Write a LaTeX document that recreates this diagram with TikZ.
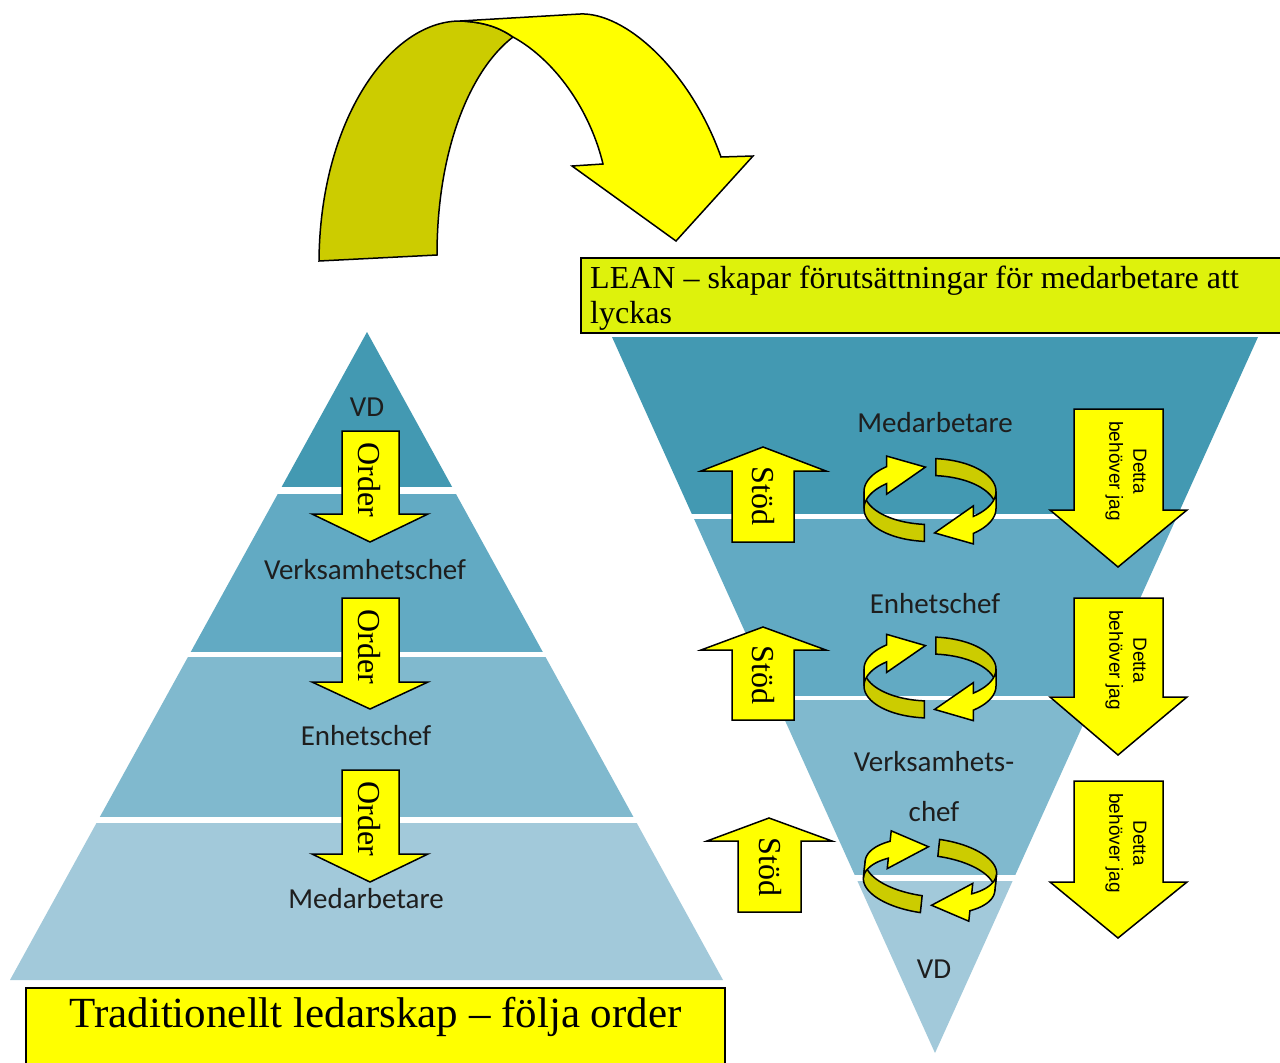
\documentclass[tikz,border=0pt]{standalone}
\usepackage{fontspec}
\setmainfont{Liberation Serif}
\newfontfamily\lblfont{Carlito}
\newfontfamily\arialfont{Liberation Sans}
\definecolor{ylw}{RGB}{255,255,0}
\definecolor{olv}{RGB}{204,204,0}
\definecolor{limebox}{RGB}{222,242,12}
\definecolor{bandA}{RGB}{67,153,178}
\definecolor{bandB}{RGB}{98,170,195}
\definecolor{bandC}{RGB}{128,185,206}
\definecolor{bandD}{RGB}{162,201,218}
\definecolor{lbltext}{RGB}{30,30,30}

\tikzset{
  shapeline/.style={draw=black, line width=1.5pt, line join=miter},
  yshape/.style={shapeline, fill=ylw},
  oshape/.style={shapeline, fill=olv},
  lbl/.style={font=\lblfont\fontsize{29}{31}\selectfont, text=lbltext, inner sep=0pt, anchor=base},
  rottxt/.style={font=\fontsize{32}{34}\selectfont, rotate=-90, inner sep=0pt},
  needtxt/.style={font=\arialfont\fontsize{19}{24}\selectfont, rotate=-90, inner sep=0pt, align=center},
  titlebox/.style={draw=black, line width=2.2pt},
}

% two curved arrows chasing each other round an elliptical ribbon
\newcommand\cyclearrows[3]{%
  \begin{scope}[shift={(#1,#2)}]
    \def\rx{66}\def\ry{#3}\def\hb{8.5}\def\ex{10.5}
    \filldraw[oshape] plot[domain=180:265,samples=30] ({\rx*cos(\x)},{-\hb-\ry*sin(\x)})
      -- plot[domain=265:180,samples=30] ({\rx*cos(\x)},{\hb-\ry*sin(\x)}) -- cycle;
    \filldraw[oshape] plot[domain=85:0,samples=30] ({\rx*cos(\x)},{-\hb-\ry*sin(\x)})
      -- plot[domain=0:85,samples=30] ({\rx*cos(\x)},{\hb-\ry*sin(\x)}) -- cycle;
    \filldraw[yshape] plot[domain=180:131,samples=20] ({\rx*cos(\x)},{-\hb-\ry*sin(\x)})
      -- ({\rx*cos(131)},{-\hb-\ry*sin(131)-\ex})
      -- ({\rx*cos(94)},{-\ry*sin(94)})
      -- ({\rx*cos(131)},{\hb-\ry*sin(131)+\ex})
      -- plot[domain=131:180,samples=20] ({\rx*cos(\x)},{\hb-\ry*sin(\x)}) -- cycle;
    \filldraw[yshape] plot[domain=0:-49,samples=20] ({\rx*cos(\x)},{-\hb-\ry*sin(\x)})
      -- ({\rx*cos(-49)},{-\hb-\ry*sin(-49)-\ex})
      -- ({\rx*cos(-86)},{-\ry*sin(-86)})
      -- ({\rx*cos(-49)},{\hb-\ry*sin(-49)+\ex})
      -- plot[domain=-49:0,samples=20] ({\rx*cos(\x)},{\hb-\ry*sin(\x)}) -- cycle;
  \end{scope}}

\begin{document}
\begin{tikzpicture}[x=1pt,y=-1pt]
\useasboundingbox (0,0) rectangle (1280,1063);
\fill[white] (0,0) rectangle (1280,1063);

% ---------- traditional pyramid ----------
\begin{scope}
  \clip (367,332) -- (723,980) -- (10,980) -- cycle;
  \fill[bandA] (0,320) rectangle (740,487);
  \fill[bandB] (0,494) rectangle (740,652);
  \fill[bandC] (0,657) rectangle (740,817);
  \fill[bandD] (0,823) rectangle (740,981);
\end{scope}

\node[lbl] (pvd)  at (367,416) {VD};
\node[lbl] (pvc)  at (365,579) {Verksamhetschef};
\node[lbl] (pec)  at (366,745) {Enhetschef};
\node[lbl] (pmed) at (366,908) {Medarbetare};

% order arrows
\filldraw[yshape] (342,431) -- (399,431) -- (399,514) -- (428,514) -- (370,542) -- (312,514) -- (342,514) -- cycle;
\filldraw[yshape] (342,598) -- (399,598) -- (399,682) -- (428,682) -- (370,709) -- (312,682) -- (342,682) -- cycle;
\filldraw[yshape] (342,770) -- (399,770) -- (399,854) -- (428,854) -- (370,882) -- (312,854) -- (342,854) -- cycle;
\node[rottxt] (ord1) at (369,480) {Order};
\node[rottxt] (ord2) at (369,647) {Order};
\node[rottxt] (ord3) at (369,819) {Order};

% caption box
\filldraw[titlebox, fill=ylw] (26,988) rectangle (725,1070);
\node[font=\fontsize{43}{45}\selectfont, anchor=base, inner sep=0pt] (trad) at (375.5,1027)
  {Traditionellt ledarskap – följa order};

% ---------- inverted pyramid ----------
\begin{scope}
  \clip (612,337) -- (1258,337) -- (935,1053) -- cycle;
  \fill[bandA] (600,330) rectangle (1270,514);
  \fill[bandB] (600,519) rectangle (1270,696);
  \fill[bandC] (600,700) rectangle (1270,875);
  \fill[bandD] (600,881) rectangle (1270,1060);
\end{scope}

\node[lbl] (imed) at (935,432) {Medarbetare};
\node[lbl] (iec)  at (935,613) {Enhetschef};
\node[lbl] (ivc1) at (934,771) {Verksamhets-};
\node[lbl] (ivc2) at (934,821) {chef};
\node[lbl] (ivd)  at (934,978) {VD};

% LEAN heading
\filldraw[titlebox, fill=limebox] (581,258) rectangle (1290,333);
\node[font=\fontsize{32}{35}\selectfont, anchor=base west, inner sep=0pt] (lean1) at (590,288)
  {LEAN – skapar förutsättningar för medarbetare att};
\node[font=\fontsize{32}{35}\selectfont, anchor=base west, inner sep=0pt] (lean2) at (590,323)
  {lyckas};

% support arrows
\filldraw[yshape] (732,542) -- (732,471) -- (701,471) -- (763,447) -- (826,471) -- (794,471) -- (794,542) -- cycle;
\filldraw[yshape] (732,720) -- (732,650) -- (701,650) -- (763,627) -- (826,650) -- (794,650) -- (794,720) -- cycle;
\filldraw[yshape] (738,912) -- (738,841) -- (707,841) -- (769,818) -- (832,841) -- (801,841) -- (801,912) -- cycle;
\node[rottxt] (std1) at (763,496) {Stöd};
\node[rottxt] (std2) at (763,675) {Stöd};
\node[rottxt] (std3) at (770,867) {Stöd};

% needs arrows
\filldraw[yshape] (1074,409) -- (1163,409) -- (1163,510) -- (1187,510) -- (1118,567) -- (1050,510) -- (1074,510) -- cycle;
\filldraw[yshape] (1074,598) -- (1163,598) -- (1163,697) -- (1187,697) -- (1118,755) -- (1050,697) -- (1074,697) -- cycle;
\filldraw[yshape] (1074,781) -- (1163,781) -- (1163,882) -- (1187,882) -- (1118,938) -- (1050,882) -- (1074,882) -- cycle;
\node[needtxt] (need1) at (1126,471) {Detta\\behöver jag};
\node[needtxt] (need2) at (1126,660) {Detta\\behöver jag};
\node[needtxt] (need3) at (1126,843) {Detta\\behöver jag};

% cycle arrows
\cyclearrows{930}{500}{33}
\cyclearrows{930}{677.5}{32}
\begin{scope}[rotate around={-6:(930,876)}]
  \cyclearrows{930}{876}{29}
\end{scope}

% ---------- big curved arrow ----------
\filldraw[oshape] (319,261) .. controls (320,120) and (390,21) .. (460,21)
  .. controls (485,22) and (500,28) .. (513,37)
  .. controls (470,70) and (437,150) .. (437,255) -- cycle;
\filldraw[yshape] (460,21) -- (580,14)
  .. controls (625,12) and (690,70) .. (721,157)
  -- (753,156) -- (676,241) -- (572,166) -- (603,164)
  .. controls (590,110) and (555,60) .. (513,37)
  .. controls (500,28) and (485,22) .. (460,21) -- cycle;
\end{tikzpicture}
\end{document}
